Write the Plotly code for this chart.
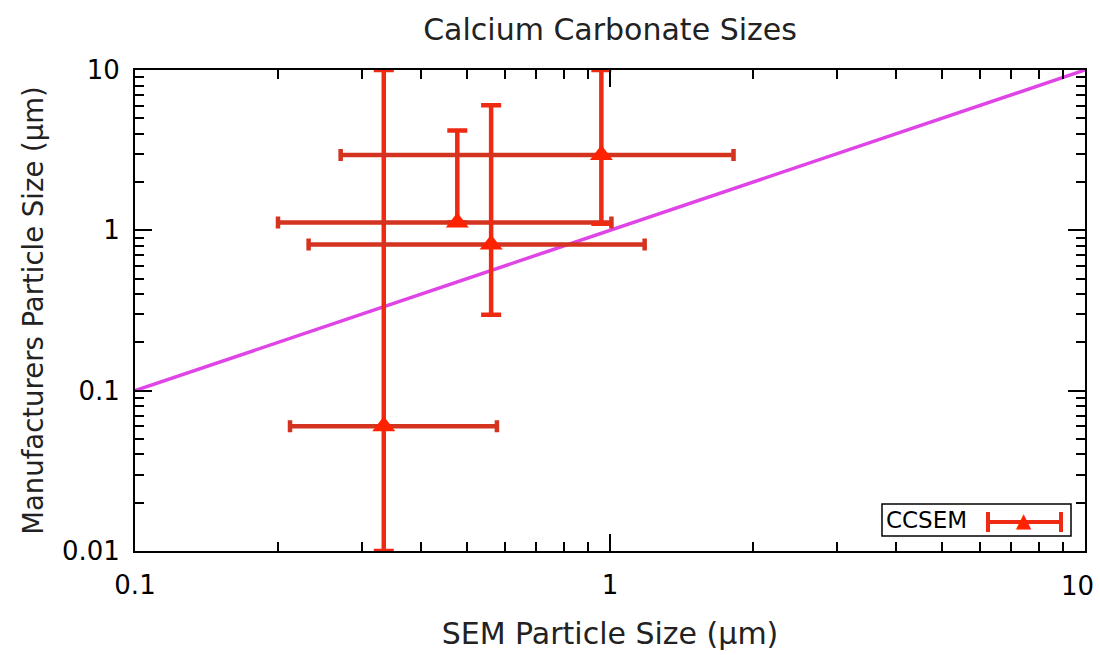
import plotly.graph_objects as go

# Data
sem_size = [0.334, 0.477, 0.562, 0.959]          # SEM particle size (um)
mfr_size = [0.06, 1.12, 0.815, 2.95]             # Manufacturers particle size (um)
x_low = [0.212, 0.200, 0.232, 0.271]             # lower bound of x error
x_high = [0.578, 1.007, 1.183, 1.82]             # upper bound of x error
y_low = [0.01, 1.12, 0.298, 1.10]                # lower bound of y error
y_high = [10.0, 4.2, 6.03, 10.0]                 # upper bound of y error
ref_x = [0.1, 10]                                # y = x reference line
ref_y = [0.1, 10]
x_tick_vals = [0.1, 1, 10]
x_tick_text = ["0.1", "1", "10"]
y_tick_vals = [0.01, 0.1, 1, 10]
y_tick_text = ["0.01", "0.1", "1", "10"]

x_plus = [h - v for h, v in zip(x_high, sem_size)]
x_minus = [v - l for l, v in zip(x_low, sem_size)]
y_plus = [h - v for h, v in zip(y_high, mfr_size)]
y_minus = [v - l for l, v in zip(y_low, mfr_size)]

FONT = "DejaVu Sans"
RED = "#ee2a12"
RED_H = "#d4331f"

L, R, T, B = 135, 1085, 70, 551
PW, PH = R - L, B - T

fig = go.Figure()
fig.add_trace(go.Scatter(
    x=ref_x, y=ref_y, mode="lines",
    line=dict(color="#e044e6", width=3.5),
    showlegend=False, hoverinfo="skip",
))
fig.add_trace(go.Scatter(
    x=sem_size, y=mfr_size, mode="markers", name="CCSEM",
    marker=dict(symbol="triangle-up", size=20, color="#ff2200"),
    error_x=dict(type="data", symmetric=False, array=x_plus, arrayminus=x_minus,
                 color=RED_H, thickness=4.5, width=6),
    error_y=dict(type="data", symmetric=False, array=y_plus, arrayminus=y_minus,
                 color=RED, thickness=4.5, width=10),
    showlegend=False,
))

axis_common = dict(
    type="log", showline=True, linecolor="black", linewidth=2, mirror="allticks",
    ticks="inside", ticklen=17, tickwidth=2, tickcolor="black",
    showgrid=False, zeroline=False, automargin=False,
    minor=dict(ticks="inside", ticklen=9, tickwidth=2, tickcolor="black",
               dtick="D1", showgrid=False),
    tickfont=dict(family=FONT, size=26, color="black"),
)

# the last x label sits at the right edge of the page: it is drawn as an
# annotation pulled slightly inward, as in the reference
fig.update_xaxes(
    **axis_common, range=[-1.00001, 1.00001], ticklabelstandoff=10,
    tickvals=x_tick_vals, ticktext=x_tick_text[:-1] + [""],
    title=dict(text="SEM Particle Size (µm)", font=dict(family=FONT, size=30, color="#222"), standoff=24),
)
fig.add_annotation(xref="paper", yref="paper", x=1, y=(B - 586) / PH,
                   text=x_tick_text[-1], showarrow=False, xanchor="right", yanchor="middle",
                   xshift=11, font=dict(family=FONT, size=26, color="black"))
fig.update_yaxes(
    **axis_common, range=[-2.00001, 1.00001], ticklabelstandoff=8,
    tickvals=y_tick_vals, ticktext=y_tick_text,
    title=dict(text="Manufacturers Particle Size (µm)", font=dict(family=FONT, size=27.5, color="#222"), standoff=10),
)

# Legend box (text followed by error-bar sample, as in the reference)
def px_x(v):
    return (v - L) / PW

def px_y(v):
    return (B - v) / PH

fig.add_shape(type="rect", xref="paper", yref="paper",
              x0=px_x(882), x1=px_x(1071), y0=px_y(536), y1=px_y(504),
              line=dict(color="black", width=1.5), fillcolor="white")
fig.add_annotation(xref="paper", yref="paper", x=px_x(884), y=px_y(520),
                   text="CCSEM", showarrow=False, xanchor="left", yanchor="middle",
                   font=dict(family=FONT, size=23, color="black"))
ly = px_y(522)
fig.add_shape(type="line", xref="paper", yref="paper",
              x0=px_x(988), x1=px_x(1061), y0=ly, y1=ly,
              line=dict(color=RED, width=4))
for p in (988, 1061):
    fig.add_shape(type="line", xref="paper", yref="paper",
                  x0=px_x(p), x1=px_x(p), y0=ly - 10 / PH, y1=ly + 10 / PH,
                  line=dict(color=RED, width=4))
fig.add_annotation(xref="paper", yref="paper", x=px_x(1024), y=ly + 2 / PH,
                   text="▲", showarrow=False, xanchor="center", yanchor="middle",
                   font=dict(family=FONT, size=20, color="#ff2200"))

fig.update_layout(
    width=1100, height=655,
    margin=dict(l=L, r=1100 - R, t=T, b=655 - B),
    paper_bgcolor="white", plot_bgcolor="white",
    title=dict(text="Calcium Carbonate Sizes", x=(L + R) / 2 / 1100, xanchor="center",
               y=1 - 29 / 655, yanchor="middle",
               font=dict(family=FONT, size=30, color="#222")),
    showlegend=False,
)

fig.write_html("out.html")
